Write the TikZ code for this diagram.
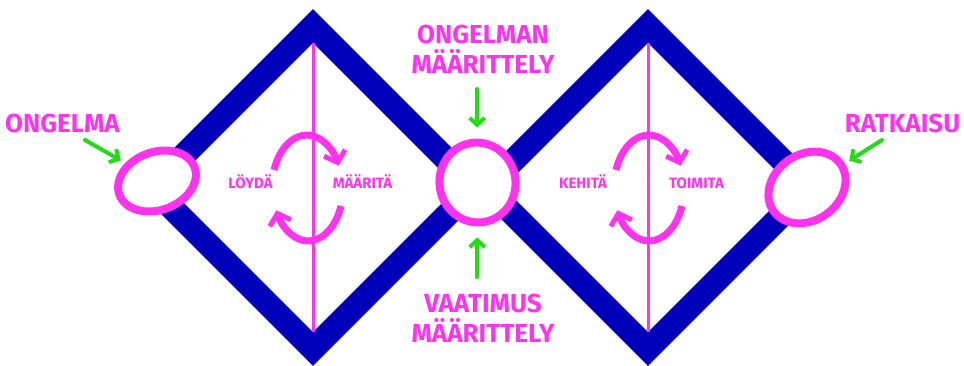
\documentclass[tikz,border=0pt]{standalone}
\usepackage{fontspec}
\setmainfont{Fira Sans}
\usetikzlibrary{arrows.meta, positioning, shapes.geometric, calc}
\definecolor{cnavy}{HTML}{0000BB}
\definecolor{cpink}{HTML}{FF33EE}
\definecolor{cgreen}{HTML}{22DD11}
\tikzset{
  every picture/.style={x=1pt, y=1pt},
  frame/.style={draw=cnavy, line width=24pt, line join=miter},
  divider/.style={draw=cpink, line width=3pt},
  ring/.style={ellipse, draw=cpink, fill=white, line width=8pt, inner sep=0pt},
  loop/.style={draw=cpink, line width=7pt, -{Straight Barb[length=10pt, width=22pt, line width=5pt]}},
  pointer/.style={draw=cgreen, line width=4pt, line cap=round, shorten >=8pt, -{Straight Barb[length=7pt, width=15pt, line width=4pt]}},
  big/.style={font=\bfseries\fontsize{26}{30}\selectfont, text=cpink, align=center, inner sep=0pt},
  small/.style={font=\bfseries\fontsize{15}{18}\selectfont, text=cpink, inner sep=0pt, anchor=base},
}

\begin{document}
\begin{tikzpicture}
  \useasboundingbox (0,0) rectangle (964,365);
  % the two diamonds
  \draw[frame] (313,339) -- (474.5,177.5) -- (313,16) -- (151.5,177.5) -- cycle;
  \draw[frame] (648,339) -- (809.5,177.5) -- (648,16) -- (486.5,177.5) -- cycle;
  \draw[divider] (313,322) -- (313,33);
  \draw[divider] (648,322) -- (648,33);
  % circled points
  \node[ring, minimum width=80pt, minimum height=58pt, rotate=20] (start) at (157,184) {};
  \node[ring, minimum width=76pt, minimum height=80pt, rotate=10] (mid) at (477.5,182.5) {};
  \node[ring, minimum width=82pt, minimum height=66pt, rotate=35] (goal) at (807,177.5) {};
  % labels
  \node[big, anchor=base] (ongelma) at (62.5,233) {ONGELMA};
  \node[big, anchor=base] (ratkaisu) at (902.5,233) {RATKAISU};
  \node[big] (ongm) at (483,316) {ONGELMAN\\MÄÄRITTELY};
  \node[big] (vaatm) at (483,46.5) {VAATIMUS\\MÄÄRITTELY};
  \node[small] (loyda) at (250.5,177) {LÖYDÄ};
  \node[small] (maarita) at (362.5,177) {MÄÄRITÄ};
  \node[small] (kehita) at (583,177) {KEHITÄ};
  \node[small] (toimita) at (696.5,177) {TOIMITA};
  % green pointers
  \coordinate (p1) at (85,225);
  \coordinate (p2) at (477,276);
  \coordinate (p3) at (477,88);
  \coordinate (p4) at (882,225);
  \draw[pointer, shorten >=5pt] (p1) -- (start);
  \draw[pointer, shorten >=11pt] (p2) -- (mid);
  \draw[pointer, shorten >=11pt] (p3) -- (mid);
  \draw[pointer, shorten >=5pt] (p4) -- (goal);
  % turning arrows
  \draw[loop] (274,195) arc[start angle=160, end angle=25, x radius=35, y radius=53];
  \draw[loop] (341,159) arc[start angle=-20, end angle=-155, x radius=35, y radius=53];
  \draw[loop] (616,195) arc[start angle=160, end angle=25, x radius=35, y radius=53];
  \draw[loop] (682,159) arc[start angle=-20, end angle=-155, x radius=35, y radius=53];
\end{tikzpicture}
\end{document}
